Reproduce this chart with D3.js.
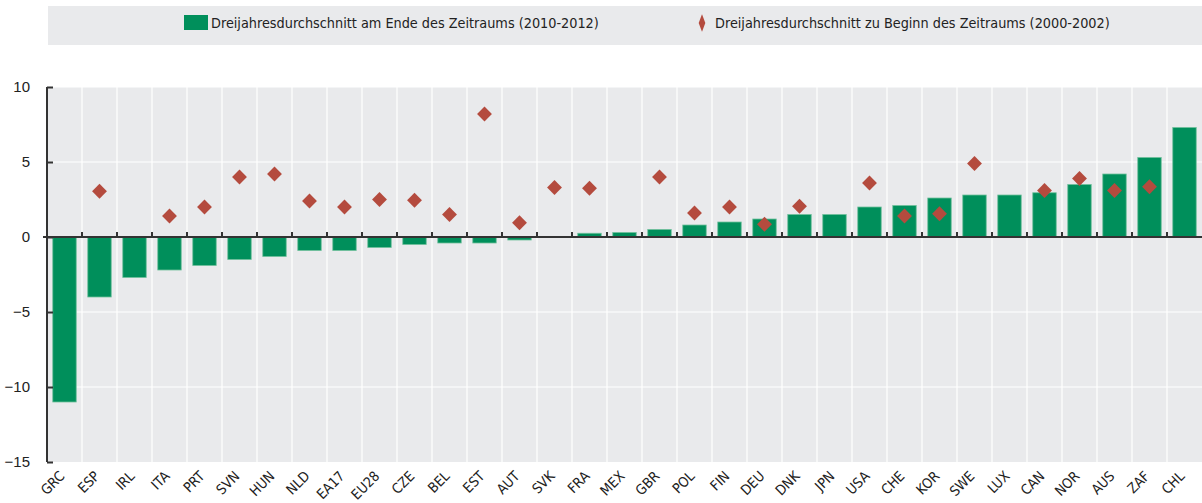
<!DOCTYPE html>
<html>
<head>
<meta charset="utf-8">
<script src="https://cdn.jsdelivr.net/npm/d3@7"></script>
<style>
  body { margin: 0; background: #fff; }
  svg { display: block; font-family: "DejaVu Sans Condensed", "Liberation Sans Narrow", "Open Sans", sans-serif; }
</style>
</head>
<body>
<script>
// categories and values
var countries = ["GRC","ESP","IRL","ITA","PRT","SVN","HUN","NLD","EA17","EU28","CZE","BEL","EST","AUT","SVK",
  "FRA","MEX","GBR","POL","FIN","DEU","DNK","JPN","USA","CHE","KOR","SWE","LUX","CAN","NOR","AUS","ZAF","CHL"];
// end of period average (2010-2012), bars
var endValues = [-11.0,-4.0,-2.7,-2.2,-1.9,-1.5,-1.3,-0.9,-0.9,-0.7,-0.5,-0.4,-0.4,-0.2,0,
  0.25,0.3,0.5,0.8,1.0,1.2,1.5,1.5,2.0,2.1,2.6,2.8,2.8,2.95,3.5,4.2,5.3,7.3];
// start of period average (2000-2002), diamonds; null = no value
var startValues = [null,3.05,null,1.4,2.0,4.0,4.2,2.4,2.0,2.5,2.45,1.5,8.2,0.95,3.3,
  3.25,null,4.0,1.6,2.0,0.85,2.05,null,3.6,1.4,1.55,4.9,null,3.1,3.9,3.1,3.35,null];
var yTicks = [-15,-10,-5,0,5,10];
var legendLabels = ["Dreijahresdurchschnitt am Ende des Zeitraums (2010-2012)",
  "Dreijahresdurchschnitt zu Beginn des Zeitraums (2000-2002)"];

var W = 1202, H = 503;
var margin = { top: 87, right: 0, bottom: 41, left: 47 };
var width = W - margin.left - margin.right,
    height = H - margin.top - margin.bottom;

var green = "#008f5b", red = "#b44b3e", bg = "#e9eaec";

var svg = d3.select("body").append("svg")
    .attr("width", W)
    .attr("height", H);

// legend box
var legend = svg.append("g");
legend.append("rect")
    .attr("x", 48).attr("y", 6).attr("width", W - 48).attr("height", 39)
    .attr("fill", bg);
legend.append("rect")
    .attr("x", 184).attr("y", 15).attr("width", 24).attr("height", 15)
    .attr("fill", green);
legend.append("text")
    .attr("x", 211).attr("y", 27.5)
    .attr("font-size", "14.3px").attr("fill", "#222")
    .text(legendLabels[0]);
legend.append("path")
    .attr("d", d3.symbol(d3.symbolDiamond, 60)())
    .attr("transform", "translate(702,23) scale(0.8,1.2)")
    .attr("fill", red);
legend.append("text")
    .attr("x", 715).attr("y", 27.5)
    .attr("font-size", "14.3px").attr("fill", "#222")
    .text(legendLabels[1]);

var g = svg.append("g")
    .attr("transform", "translate(" + margin.left + "," + margin.top + ")");

var x = d3.scaleBand().domain(countries).range([0, width]).paddingInner(0.33).paddingOuter(0.165);
var xb = d3.scaleBand().domain(countries).range([0, width]);
var y = d3.scaleLinear().domain([-15, 10]).range([height, 0]);

// plot background
g.append("rect")
    .attr("width", width).attr("height", height)
    .attr("fill", bg);

// horizontal grid
g.selectAll(".hgrid")
    .data(yTicks.filter(function (d) { return d !== 0 && d !== -15; }))
    .enter().append("line")
    .attr("x1", 0).attr("x2", width)
    .attr("y1", function (d) { return y(d); })
    .attr("y2", function (d) { return y(d); })
    .attr("stroke", "#fff").attr("stroke-width", 1.2);

// vertical grid at band boundaries
g.selectAll(".vgrid")
    .data(countries.slice(1))
    .enter().append("line")
    .attr("x1", function (d) { return xb(d); })
    .attr("x2", function (d) { return xb(d); })
    .attr("y1", 0).attr("y2", height)
    .attr("stroke", "#fff").attr("stroke-width", 1.2);

// bars
g.selectAll(".bar")
    .data(countries)
    .enter().append("rect")
    .attr("x", function (d) { return x(d); })
    .attr("width", x.bandwidth())
    .attr("y", function (d, i) { return y(Math.max(0, endValues[i])); })
    .attr("height", function (d, i) { return Math.abs(y(endValues[i]) - y(0)); })
    .attr("fill", green)
    .attr("stroke", "#6fc09c").attr("stroke-width", 0.8);

// zero line with inward ticks
g.append("line")
    .attr("x1", -4).attr("x2", width)
    .attr("y1", y(0)).attr("y2", y(0))
    .attr("stroke", "#333").attr("stroke-width", 2.2);
g.selectAll(".xtick")
    .data(countries.slice(1))
    .enter().append("line")
    .attr("x1", function (d) { return xb(d); })
    .attr("x2", function (d) { return xb(d); })
    .attr("y1", y(0)).attr("y2", y(0) - 5)
    .attr("stroke", "#333").attr("stroke-width", 2);

// diamonds
g.selectAll(".dot")
    .data(countries.filter(function (d, i) { return startValues[i] !== null; }))
    .enter().append("path")
    .attr("d", d3.symbol(d3.symbolSquare, 110)())
    .attr("transform", function (d) {
        var v = startValues[countries.indexOf(d)];
        return "translate(" + (xb(d) + xb.bandwidth() / 2) + "," + y(v) + ") rotate(45)";
    })
    .attr("fill", red);

// y axis
var yAxis = g.append("g")
    .call(d3.axisLeft(y).tickValues(yTicks).tickSize(-6).tickPadding(17).tickFormat(d3.format("d")));
yAxis.select(".domain").attr("stroke", "#333").attr("stroke-width", 2).attr("d", "M0," + height + "V0");
yAxis.selectAll(".tick line").attr("stroke", "#333").attr("stroke-width", 2);
yAxis.selectAll(".tick text").attr("font-size", "15px").attr("fill", "#222");

// x labels, rotated through a nested group
var xl = g.selectAll(".xlabel")
    .data(countries)
    .enter().append("g")
    .attr("transform", function (d) {
        return "translate(" + (xb(d) + xb.bandwidth() / 2 + 1) + "," + (height + 15) + ")";
    })
    .append("g")
    .attr("transform", "rotate(-45)");
xl.append("text")
    .attr("text-anchor", "end")
    .attr("font-size", "14px")
    .attr("fill", "#222")
    .text(function (d) { return d; });
</script>
</body>
</html>
